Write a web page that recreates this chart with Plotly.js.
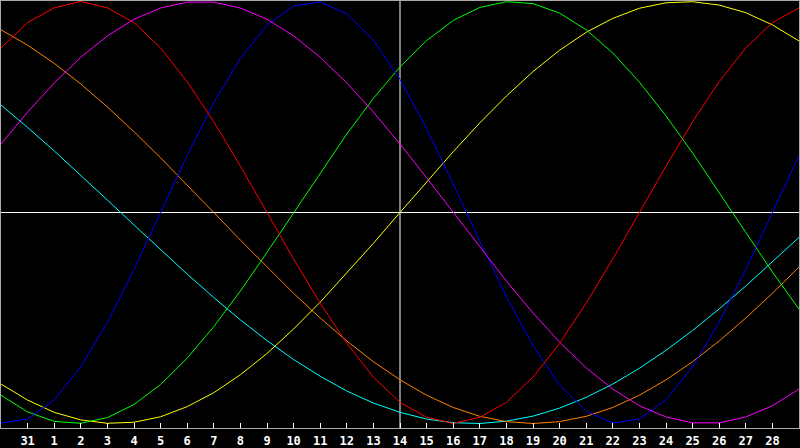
<!DOCTYPE html>
<html>
<head>
<meta charset="utf-8">
<script src="https://cdn.plot.ly/plotly-3.0.1.min.js"></script>
<style>
html,body{margin:0;padding:0;background:#000;}
#chart{width:800px;height:448px;}
</style>
</head>
<body>
<div id="chart"></div>
<script>
// day index: -1 (Jan 30) ... 29 (Mar 1); labelled days 31, 1..28 at index 0..28
var dayIndex = [-1,0,1,2,3,4,5,6,7,8,9,10,11,12,13,14,15,16,17,18,19,20,21,22,23,24,25,26,27,28,29];
var tickLabels = ["31","1","2","3","4","5","6","7","8","9","10","11","12","13","14","15","16","17","18","19","20","21","22","23","24","25","26","27","28"];
var markerDay = 14;

var redVals = [0.78,0.90,0.97,1.00,0.97,0.90,0.78,0.62,0.43,0.22,0.00,-0.22,-0.43,-0.62,-0.78,-0.90,-0.97,-1.00,-0.97,-0.90,-0.78,-0.62,-0.43,-0.22,0.00,0.22,0.43,0.62,0.78,0.90,0.97];
var blueVals = [-0.998,-0.979,-0.888,-0.731,-0.520,-0.270,0.000,0.270,0.520,0.731,0.888,0.979,0.998,0.942,0.817,0.631,0.398,0.136,-0.136,-0.398,-0.631,-0.817,-0.942,-0.998,-0.979,-0.888,-0.731,-0.520,-0.270,0.000,0.270];
var greenVals = [-0.866,-0.945,-0.990,-0.999,-0.972,-0.910,-0.815,-0.690,-0.541,-0.372,-0.189,0.000,0.189,0.372,0.541,0.690,0.815,0.910,0.972,0.999,0.990,0.945,0.866,0.756,0.618,0.458,0.282,0.095,-0.095,-0.282,-0.458];
var magentaVals = [0.325,0.476,0.614,0.736,0.837,0.916,0.969,0.997,0.997,0.969,0.916,0.837,0.736,0.614,0.476,0.325,0.165,0.000,-0.165,-0.325,-0.476,-0.614,-0.736,-0.837,-0.916,-0.969,-0.997,-0.997,-0.969,-0.916,-0.837];
var yellowVals = [-0.813,-0.889,-0.947,-0.983,-0.999,-0.994,-0.968,-0.920,-0.854,-0.769,-0.668,-0.552,-0.425,-0.288,-0.146,0.000,0.146,0.288,0.425,0.552,0.668,0.769,0.854,0.920,0.968,0.994,0.999,0.983,0.947,0.889,0.813];
var orangeVals = [0.866,0.793,0.707,0.609,0.500,0.383,0.259,0.131,0.000,-0.131,-0.259,-0.383,-0.500,-0.609,-0.707,-0.793,-0.866,-0.924,-0.966,-0.991,-1.000,-0.991,-0.966,-0.924,-0.866,-0.793,-0.707,-0.609,-0.500,-0.383,-0.259];
var cyanVals = [0.509,0.403,0.292,0.177,0.059,-0.059,-0.177,-0.292,-0.403,-0.509,-0.607,-0.697,-0.776,-0.846,-0.903,-0.947,-0.979,-0.996,-1.000,-0.989,-0.965,-0.927,-0.876,-0.813,-0.738,-0.653,-0.559,-0.457,-0.348,-0.235,-0.118];

var series = [
  {name:"cyan",    y:cyanVals,    color:"#00ffff"},
  {name:"orange",  y:orangeVals,  color:"#ff8000"},
  {name:"yellow",  y:yellowVals,  color:"#ffff00"},
  {name:"green",   y:greenVals,   color:"#00ff00"},
  {name:"blue",    y:blueVals,    color:"#0000ff"},
  {name:"magenta", y:magentaVals, color:"#ff00ff"},
  {name:"red",     y:redVals,     color:"#ff0000"}
];

var traces = series.map(function(s){
  return {x: dayIndex, y: s.y, type:"scatter", mode:"lines", name:s.name,
          line:{color:s.color, width:1, shape:"linear"}, hoverinfo:"skip"};
});

var tickVals = tickLabels.map(function(t, k){ return k; });

var layout = {
  width:800, height:448,
  margin:{l:1, r:1, t:1, b:20, pad:0},
  paper_bgcolor:"#000000", plot_bgcolor:"#000000",
  showlegend:false,
  xaxis:{range:[-1,29], fixedrange:true, showgrid:false, zeroline:false,
         showline:true, linecolor:"#a8a8a8", linewidth:1, mirror:true,
         tickmode:"array", tickvals:tickVals, ticktext:tickLabels,
         ticks:"inside", ticklen:5, tickwidth:1, tickcolor:"#ffffff",
         ticklabelstandoff:2,
         tickfont:{family:"DejaVu Sans Mono", size:12, color:"#ffffff", weight:"bold"}},
  yaxis:{range:[-1.0213,1.0024], fixedrange:true, showgrid:false,
         zeroline:true, zerolinecolor:"#ffffff", zerolinewidth:1,
         showline:true, linecolor:"#a8a8a8", linewidth:1, mirror:true,
         showticklabels:false, ticks:""},
  shapes:[{type:"line", xref:"x", yref:"paper", x0:markerDay, x1:markerDay, y0:0, y1:1,
           line:{color:"#ffffff", width:1}, layer:"below"}]
};

Plotly.newPlot("chart", traces, layout, {displayModeBar:false, staticPlot:true});
</script>
</body>
</html>
